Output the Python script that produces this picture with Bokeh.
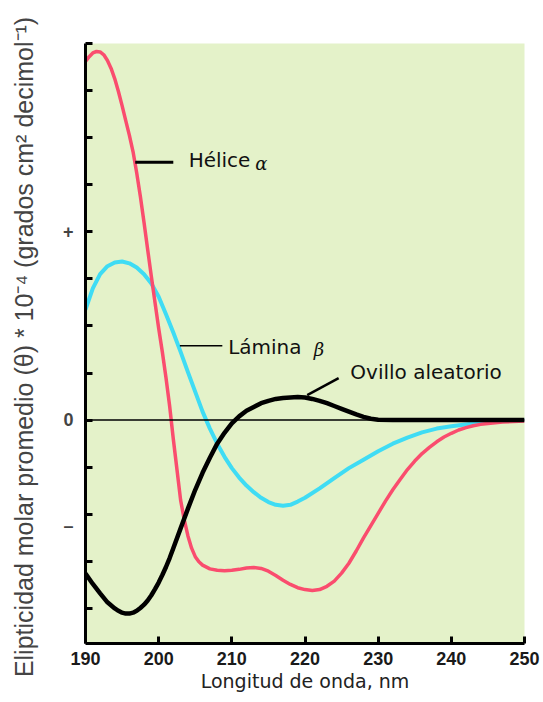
from bokeh.plotting import figure
from bokeh.models import Range1d, FixedTicker, Span
from bokeh.core.properties import value
from bokeh.embed import file_html
from bokeh.resources import INLINE

# ---- data (wavelength nm, mean molar ellipticity x 10^-4) ----
nm_helix = [190, 190.5, 191, 191.5, 192, 192.5, 193, 193.5, 194, 194.5, 195, 195.5, 196,
            196.5, 197, 197.5, 198, 198.5, 199, 199.5, 200, 200.5, 201, 201.5, 202, 202.5,
            203, 203.5, 204, 204.5, 205, 205.5, 206, 207, 208, 209, 210, 211, 212, 213,
            214, 215, 216, 217, 218, 219, 220, 221, 222, 223, 224, 225, 226, 227, 228,
            229, 230, 231, 232, 233, 234, 235, 236, 237, 238, 239, 240, 241, 242, 243,
            244, 245, 247, 250]
val_helix = [7.62, 7.72, 7.8, 7.83, 7.82, 7.76, 7.64, 7.47, 7.25, 6.98, 6.68, 6.36, 6.05,
             5.7, 5.25, 4.75, 4.2, 3.62, 3.05, 2.5, 1.95, 1.45, 0.9, 0.3, -0.4, -1.05,
             -1.7, -2.12, -2.46, -2.72, -2.9, -3.01, -3.08, -3.16, -3.19, -3.2, -3.19,
             -3.17, -3.14, -3.13, -3.15, -3.21, -3.3, -3.4, -3.49, -3.56, -3.6, -3.62,
             -3.6, -3.53, -3.42, -3.25, -3.04, -2.78, -2.5, -2.24, -1.98, -1.72, -1.48,
             -1.26, -1.05, -0.87, -0.71, -0.58, -0.46, -0.36, -0.28, -0.21, -0.16, -0.12,
             -0.09, -0.07, -0.04, -0.02]

nm_sheet = [190, 191, 192, 193, 194, 195, 196, 197, 198, 199, 200, 201, 202, 203, 204,
            205, 206, 207, 208, 209, 210, 211, 212, 213, 214, 215, 216, 217, 218, 219,
            220, 222, 224, 226, 228, 230, 232, 234, 236, 238, 240, 243, 246, 250]
val_sheet = [2.35, 2.8, 3.1, 3.27, 3.35, 3.37, 3.33, 3.24, 3.1, 2.9, 2.62, 2.25, 1.86,
             1.45, 1.02, 0.6, 0.18, -0.18, -0.5, -0.78, -1.02, -1.22, -1.39, -1.53, -1.65,
             -1.74, -1.8, -1.82, -1.8, -1.73, -1.65, -1.45, -1.23, -1.02, -0.84, -0.66,
             -0.5, -0.37, -0.26, -0.18, -0.13, -0.07, -0.03, 0.0]

nm_coil = [190, 190.5, 191, 192, 193, 194, 194.5, 195, 195.5, 196, 196.5, 197, 197.5,
           198, 198.5, 199, 199.5, 200, 200.5, 201, 201.5, 202, 203, 204, 205, 206, 207,
           208, 209, 210, 211, 212, 213, 214, 215, 216, 217, 218, 219, 220, 221, 222,
           223, 224, 225, 226, 227, 228, 229, 230, 232, 250]
val_coil = [-3.26, -3.37, -3.48, -3.68, -3.87, -4.0, -4.05, -4.09, -4.11, -4.11, -4.09,
            -4.05, -3.99, -3.92, -3.83, -3.72, -3.59, -3.45, -3.29, -3.12, -2.93, -2.72,
            -2.3, -1.88, -1.48, -1.12, -0.8, -0.5, -0.27, -0.07, 0.08, 0.2, 0.28, 0.36,
            0.41, 0.45, 0.47, 0.48, 0.49, 0.48, 0.45, 0.41, 0.36, 0.3, 0.24, 0.18, 0.12,
            0.07, 0.03, 0.01, 0.0, 0.0]

x_ticks = [190, 200, 210, 220, 230, 240, 250]
y_minor = list(range(-4, 9))
y_label_pos = [4, 0, -2.25]
y_label_txt = ["+", "0", "\u2013"]

# labels
lab_names = ["Hélice", "Lámina", "Ovillo aleatorio"]
lab_x = [204.1, 209.5, 226.2]
lab_y = [5.52, 1.55, 1.02]
greek = ["α", "β"]
greek_x = [213.2, 221.2]
greek_y = [5.45, 1.5]
lead_x0 = [196.8, 202.9, 220.3]
lead_x1 = [202.0, 208.7, 224.6]
lead_y0 = [5.48, 1.58, 0.53]
lead_y1 = [5.48, 1.58, 0.89]
lead_w = [3, 1.5, 2.5]

p = figure(width=543, height=702, x_range=Range1d(190, 250), y_range=Range1d(-4.745, 8.0),
           output_backend="svg", toolbar_location=None,
           min_border_left=85, min_border_right=19, min_border_top=43, min_border_bottom=59)
p.background_fill_color = "#e4f2c9"
p.border_fill_color = "white"
p.outline_line_color = None
p.grid.visible = False

# x axis
xa = p.xaxis[0]
xa.ticker = FixedTicker(ticks=x_ticks, minor_ticks=[])
xa.axis_line_width = 3
xa.major_tick_line_width = 3
xa.major_tick_in = 7
xa.major_tick_out = 0
xa.minor_tick_line_color = None
xa.major_label_standoff = 8
xa.major_label_text_font = "Liberation Sans"
xa.major_label_text_font_style = "bold"
xa.major_label_text_font_size = "18px"
xa.major_label_text_color = "#1a1a1a"
xa.axis_label = "Longitud de onda, nm"
xa.axis_label_text_font = "DejaVu Sans"
xa.axis_label_text_font_style = "normal"
xa.axis_label_text_font_size = "19px"
xa.axis_label_text_color = "#222222"
xa.axis_label_standoff = 2

# y axis
ya = p.yaxis[0]
ya.ticker = FixedTicker(ticks=y_label_pos, minor_ticks=y_minor)
ya.major_label_overrides = {k: t for k, t in zip(y_label_pos, y_label_txt)}
ya.axis_line_width = 3
ya.major_tick_line_color = None
ya.major_tick_in = 0
ya.major_tick_out = 0
ya.minor_tick_line_width = 3
ya.minor_tick_in = 7
ya.minor_tick_out = 0
ya.major_label_standoff = 12
ya.major_label_text_font = "Liberation Sans"
ya.major_label_text_font_style = "bold"
ya.major_label_text_font_size = "18px"
ya.axis_label = "Elipticidad molar promedio (θ) * 10\u207b\u2074  (grados cm\u00b2 decimol\u207b\u00b9)"
ya.axis_label_text_font = "Liberation Sans"
ya.axis_label_text_font_style = "normal"
ya.axis_label_text_font_size = "25px"
ya.axis_label_standoff = 22

# curves
p.line(nm_sheet, val_sheet, line_color="#3fdcf4", line_width=4, line_join="round")
p.line(nm_helix, val_helix, line_color="#fa4d6e", line_width=3.5, line_join="round")
p.line(nm_coil, val_coil, line_color="black", line_width=4.5, line_join="round")

p.add_layout(Span(location=0, dimension="width", line_color="black", line_width=1.5))

# leader lines and labels
p.segment(x0=lead_x0, y0=lead_y0, x1=lead_x1, y1=lead_y1, line_color="black", line_width=lead_w)
p.text(x=lab_x, y=lab_y, text=lab_names, text_font=value("DejaVu Sans"), text_font_size="20px",
       text_baseline="middle", text_align="left", text_color="#111111")
p.text(x=greek_x, y=greek_y, text=greek, text_font=value("DejaVu Serif"), text_font_size="18px",
       text_font_style="italic", text_baseline="middle", text_align="left", text_color="#111111")

open("out.html", "w").write(file_html(p, INLINE))
